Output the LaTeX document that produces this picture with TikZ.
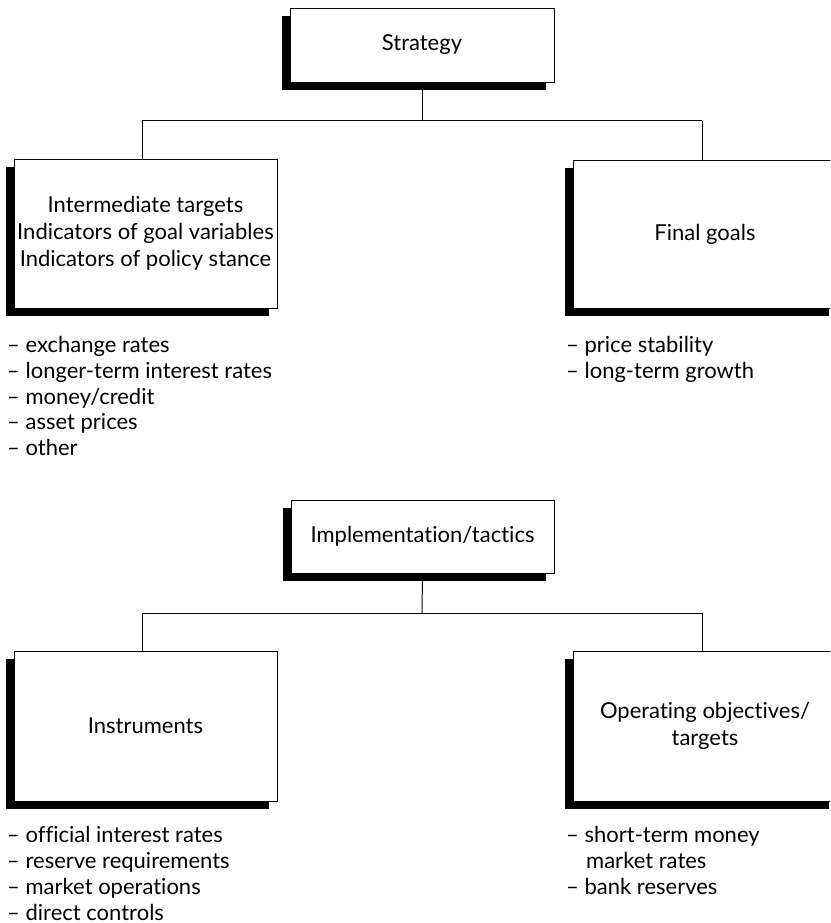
\documentclass[tikz,border=0pt]{standalone}
\usepackage{fontspec}
\setmainfont{Lato}[Ligatures=NoCommon]
\usetikzlibrary{shadows}
\begin{document}
\begin{tikzpicture}[x=1pt,y=-1pt,
  box/.style={draw=black, line width=0.8pt, fill=white, inner sep=0pt, align=center,
    font=\fontsize{22}{27}\selectfont,
    drop shadow={shadow xshift=-8pt, shadow yshift=-8pt, opacity=1, fill=black}},
  conn/.style={draw=black, line width=1pt},
  item/.style={anchor=base west, inner sep=0pt, font=\fontsize{22}{26}\selectfont}]
\useasboundingbox (0,0) rectangle (830,923);
\clip (0,0) rectangle (830,923);
% Strategy part
\node[box, minimum width=264pt, minimum height=74pt] (strat) at (422,45) {Strategy};
\node[box, minimum width=263pt, minimum height=149pt] (inter) at (145.5,233.5)
  {Intermediate targets\\Indicators of goal variables\\Indicators of policy stance};
\node[box, minimum width=264pt, minimum height=148pt] (final) at (705,234) {Final goals};
\coordinate (j1) at (422,121);
\coordinate (l1) at (142,121);
\coordinate (r1) at (702,121);
\draw[conn] (strat.south) -- (j1);
\draw[conn] (l1) -- (r1);
\draw[conn] (l1) -- (l1 |- inter.north);
\draw[conn] (r1) -- (r1 |- final.north);
\node[item] (a1) at (7,352) {– exchange rates};
\node[item] (a2) at (7,378) {– longer-term interest rates};
\node[item] (a3) at (7,404) {– money/credit};
\node[item] (a4) at (7,429) {– asset prices};
\node[item] (a5) at (7,455) {– other};
\node[item] (b1) at (566,352) {– price stability};
\node[item] (b2) at (566,378) {– long-term growth};
% Implementation part
\node[box, minimum width=263pt, minimum height=73pt] (impl) at (422.5,536.5) {Implementation/tactics};
\node[box, minimum width=263pt, minimum height=150pt] (instr) at (145.5,726) {Instruments};
\node[box, minimum width=264pt, minimum height=150pt] (oper) at (705,726) {Operating objectives/\\targets};
\coordinate (j2) at (422,613);
\coordinate (l2) at (142,613);
\coordinate (r2) at (702,613);
\draw[conn] (impl.south) -- (j2);
\draw[conn] (l2) -- (r2);
\draw[conn] (l2) -- (l2 |- instr.north);
\draw[conn] (r2) -- (r2 |- oper.north);
\node[item] (c1) at (7,842) {– official interest rates};
\node[item] (c2) at (7,868) {– reserve requirements};
\node[item] (c3) at (7,894) {– market operations};
\node[item] (c4) at (7,920) {– direct controls};
\node[item] (d1) at (566,842) {– short-term money};
\node[item] (d2) at (586,868) {market rates};
\node[item] (d3) at (566,894) {– bank reserves};
\end{tikzpicture}
\end{document}
